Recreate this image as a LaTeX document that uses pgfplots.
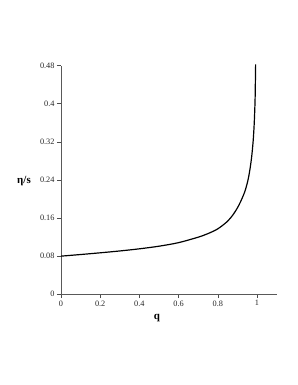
\documentclass[border=0pt]{standalone}
\usepackage{fontspec}
\setmainfont{Liberation Serif}
\usepackage{pgfplots}
\pgfplotsset{compat=1.18}
\begin{document}
\begin{tikzpicture}[x=1bp,y=1bp]
\path[use as bounding box] (-61,-91) rectangle (237,294);
\begin{axis}[
  at={(0,0)}, anchor=origin,
  scale only axis,
  width=215.6bp, height=228.3bp,
  xmin=0, xmax=1.1, ymin=0, ymax=0.48,
  axis lines*=left,
  axis line style={black!65, line width=0.8pt},
  xtick={0,0.2,0.4,0.6,0.8,1},
  ytick={0,0.08,0.16,0.24,0.32,0.4,0.48},
  xticklabels={0,0.2,0.4,0.6,0.8,1},
  yticklabels={0,0.08,0.16,0.24,0.32,0.4,0.48},
  tick align=outside,
  major tick length=4bp,
  tick style={black!70, line width=0.6pt},
  ticklabel style={font=\fontsize{8.3}{9}\selectfont, text=black!85},
  xticklabel style={yshift=1bp},
  yticklabel style={xshift=1bp},
  clip=false,
]
\addplot[black, line width=1.2pt, smooth] coordinates {
(0,0.0796) (0.1,0.0830) (0.2,0.0866) (0.3,0.0905) (0.4,0.0950)
(0.5,0.1005) (0.6,0.1080) (0.7,0.1195) (0.75,0.1270) (0.8,0.1370)
(0.85,0.1530) (0.88,0.1680) (0.9,0.1810) (0.915,0.1930) (0.93,0.2070)
(0.94,0.2180) (0.952,0.2360) (0.96,0.2520) (0.969,0.2760) (0.975,0.2970)
(0.981,0.3250) (0.986,0.3600) (0.990,0.4050) (0.9915,0.4400) (0.993,0.4830)
};
\end{axis}
\node[font=\bfseries\fontsize{11}{12}\selectfont] at (-37,113) {η/s};
\node[font=\bfseries\fontsize{11}{12}\selectfont] at (96,-24) {q};
\end{tikzpicture}
\end{document}
